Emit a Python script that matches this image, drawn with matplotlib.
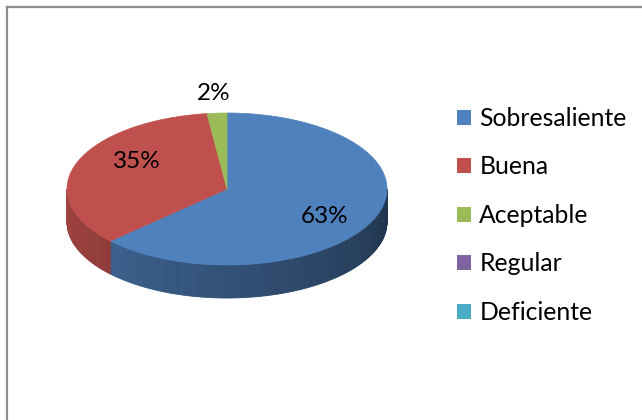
import numpy as np
import matplotlib
matplotlib.use('Agg')
import matplotlib.pyplot as plt
from matplotlib.patches import Polygon, Patch

categories = ['Sobresaliente', 'Buena', 'Aceptable', 'Regular', 'Deficiente']
values = [63, 35, 2, 0, 0]
labels = ['63%', '35%', '2%', '', '']
colors = ['#4F81BD', '#C0504D', '#9BBB59', '#8064A2', '#4BACC6']

plt.rcParams['font.family'] = ['Lato', 'DejaVu Sans']

fig = plt.figure(figsize=(6.42, 4.20), dpi=100)
ax = fig.add_axes([0, 0, 1, 1])
ax.set_xlim(0, 642)
ax.set_ylim(420, 0)
ax.axis('off')

cx, cy, rx, ry, depth = 227, 189, 160, 76, 33


def pt(t, dy=0.0):
    r = np.radians(t)
    return cx + rx * np.cos(r), cy - ry * np.sin(r) + dy


total = float(sum(values))
wedges = []
start = 90.0
for v in values:
    sweep = 360.0 * v / total
    wedges.append((start - sweep, start))
    start -= sweep


def shade(color, t):
    u = ((t % 360) - 180) / 180.0
    f = 0.85 - 0.45 * u
    c = np.array(matplotlib.colors.to_rgb(color))
    return tuple(np.clip(c * f, 0, 1))


# side walls (front half only)
for (a, b), v, col in zip(wedges, values, colors):
    if v <= 0:
        continue
    for lo, hi in ((-180, 0), (180, 360)):
        s, e = max(a, lo), min(b, hi)
        if e <= s:
            continue
        ts = np.linspace(s, e, max(2, int((e - s) / 1.0) + 1))
        for t0, t1 in zip(ts[:-1], ts[1:]):
            p0, p1 = pt(t0), pt(t1)
            q1, q0 = pt(t1, depth), pt(t0, depth)
            c = shade(col, (t0 + t1) / 2)
            ax.add_patch(Polygon([p0, p1, q1, q0], closed=True,
                                 facecolor=c, edgecolor=c, lw=0.6))

# top faces
for (a, b), v, col in zip(wedges, values, colors):
    if v <= 0:
        continue
    ts = np.linspace(a, b, max(3, int(b - a) + 2))
    pts = [(cx, cy)] + [pt(t) for t in ts]
    ax.add_patch(Polygon(pts, closed=True, facecolor=col, edgecolor=col, lw=0.5))

# labels
for (a, b), v, lab in zip(wedges, values, labels):
    if v <= 0:
        continue
    mid = np.radians((a + b) / 2)
    if v >= 5:
        x = cx + 5 + 0.63 * rx * np.cos(mid)
        y = cy - 2 - 0.98 * ry * np.sin(mid)
    else:
        x = cx + 1.28 * rx * np.cos(mid)
        y = cy - 1.26 * ry * np.sin(mid)
    ax.text(x, y, lab, ha='center', va='center', fontsize=17.5, color='black')

handles = [Patch(facecolor=c, edgecolor='none') for c in colors]
ax.legend(handles, categories, loc='upper left', bbox_to_anchor=(457 / 642, 1 - 107 / 420),
          frameon=False, fontsize=17.8, handlelength=0.55, handleheight=0.55,
          handletextpad=0.35, labelspacing=1.03, borderaxespad=0, borderpad=0)

# chart border (top and left visible)
ax.plot([6.5, 6.5], [420, 6.5], color='#8c8c8c', lw=1.6, clip_on=False, solid_capstyle='projecting')
ax.plot([6.5, 642], [6.5, 6.5], color='#8c8c8c', lw=1.6, clip_on=False, solid_capstyle='projecting')

fig.savefig('out.png', dpi=100, facecolor='white')
